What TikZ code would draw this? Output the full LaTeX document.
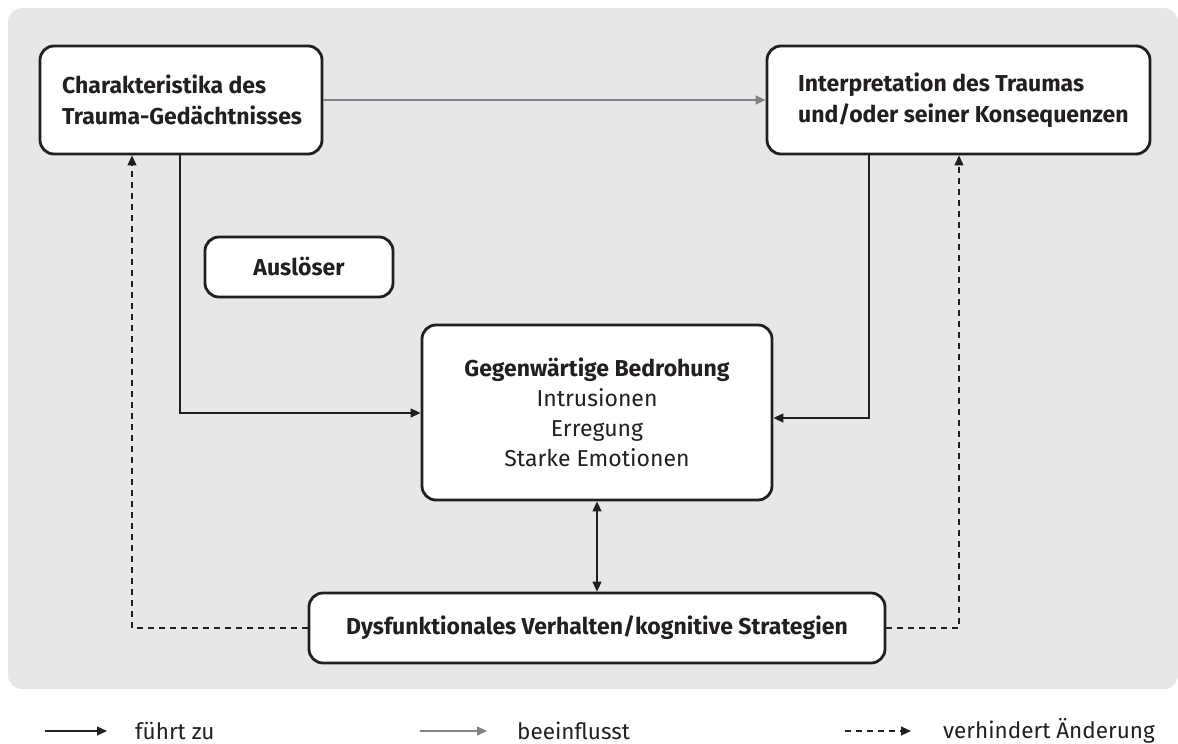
\documentclass[tikz,border=0pt]{standalone}
\usepackage{fontspec}
\setmainfont{Fira Sans}
\usetikzlibrary{arrows.meta}
\definecolor{ink}{HTML}{231F20}
\definecolor{bggray}{HTML}{E6E7E8}
\definecolor{linkgray}{HTML}{808285}
\begin{document}
\begin{tikzpicture}[x=1pt,y=-1pt,
  box/.style={draw=ink, line width=2.8pt, rounded corners=14pt, fill=white, text=ink,
    inner sep=0pt, font=\fontsize{23}{30}\selectfont},
  boxtext/.style={anchor=west, align=left, text=ink, inner sep=0pt, font=\fontsize{23}{31}\selectfont\bfseries},
  conn/.style={draw=ink, line width=1.3pt, -{Triangle[length=10pt,width=9pt]}},
  infl/.style={draw=linkgray, line width=1.3pt, -{Triangle[length=10pt,width=9pt,fill=linkgray]}},
  prevent/.style={draw=ink, line width=1.1pt, dash pattern=on 6pt off 5pt, -{Triangle[length=10pt,width=9pt]}},
  legtext/.style={anchor=west, text=ink, inner sep=0pt, font=\fontsize{22.5}{27}\selectfont}]
\useasboundingbox (0,0) rectangle (1178,744);
\fill[bggray, rounded corners=14pt] (8,8) rectangle (1178,689);

\node[box, minimum width=282pt, minimum height=108pt] (char) at (181,100) {};
\node[boxtext] (chartext) at (62,100) {Charakteristika des\\Trauma-Gedächtnisses};

\node[box, minimum width=383pt, minimum height=108pt] (interp) at (958.5,100) {};
\node[boxtext] (interptext) at (798,100) {Interpretation des Traumas\\und/oder seiner Konsequenzen};

\node[box, minimum width=188pt, minimum height=60pt, font=\fontsize{23}{30}\selectfont\bfseries] (ausl) at (299,267) {Auslöser};

\node[box, minimum width=350pt, minimum height=175pt, align=center] (threat) at (597,412.5) {{\bfseries Gegenwärtige Bedrohung}\\Intrusionen\\Erregung\\Starke Emotionen};

\node[box, minimum width=576pt, minimum height=70pt, font=\fontsize{23}{30}\selectfont\bfseries] (dysf) at (597,628) {Dysfunktionales Verhalten/kognitive Strategien};

% connectors
\draw[infl] (char.east) -- (interp.west);
\coordinate (c1) at (180,413);
\draw[conn] (char.south -| c1) -- (c1) -- (threat.west |- c1);
\coordinate (c2) at (869,418);
\draw[conn] (interp.south -| c2) -- (c2) -- (threat.east |- c2);
\draw[draw=ink, line width=1.3pt, {Triangle[length=10pt,width=9pt]}-{Triangle[length=10pt,width=9pt]}] (threat.south) -- (dysf.north);
\coordinate (d1) at (132,628);
\draw[prevent] (dysf.west) -- (d1) -- (char.south -| d1);
\coordinate (d2) at (959,628);
\draw[prevent] (dysf.east) -- (d2) -- (interp.south -| d2);

% legend
\coordinate (l1a) at (45,731);
\coordinate (l1b) at (107,731);
\draw[conn] (l1a) -- (l1b);
\node[legtext] (lt1) at (135,731) {führt zu};
\coordinate (l2a) at (420,731);
\coordinate (l2b) at (487,731);
\draw[infl] (l2a) -- (l2b);
\node[legtext] (lt2) at (517,731) {beeinflusst};
\coordinate (l3a) at (845,731);
\coordinate (l3b) at (911,731);
\draw[prevent] (l3a) -- (l3b);
\node[legtext] (lt3) at (943,731) {verhindert Änderung};
\end{tikzpicture}
\end{document}
